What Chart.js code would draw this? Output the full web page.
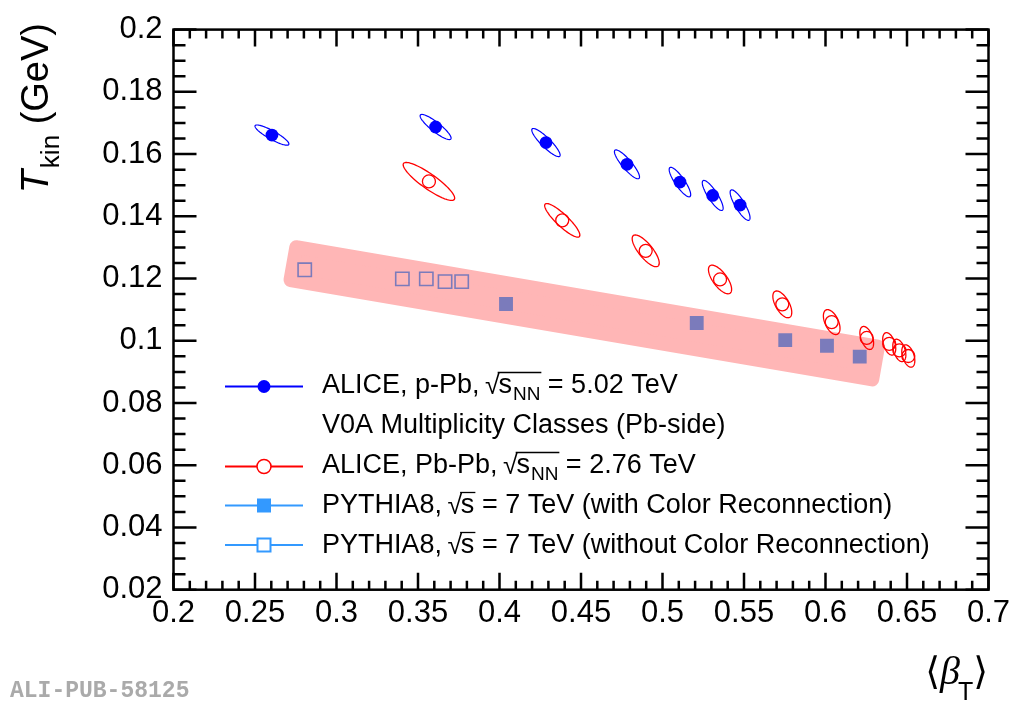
<!DOCTYPE html>
<html><head><meta charset="utf-8">
<script src="https://cdn.jsdelivr.net/npm/chart.js@4/dist/chart.umd.min.js"></script>
<style>html,body{margin:0;padding:0;background:#fff;}canvas{display:block}</style>
</head><body>
<canvas id="c" width="1024" height="701"></canvas>
<script>
// ---------------- data ----------------
const xMin = 0.2, xMax = 0.7, xStep = 0.05, xMinorStep = 0.01;
const yMin = 0.02, yMax = 0.2, yStep = 0.02, yMinorStep = 0.005;

// ALICE p-Pb 5.02 TeV (V0A multiplicity classes)
const pPbBeta   = [0.2604, 0.3608, 0.4285, 0.4782, 0.5107, 0.5308, 0.5476];
const pPbTkin   = [0.1661, 0.1687, 0.1637, 0.1567, 0.1510, 0.1467, 0.1436];
const pPbSigB   = [0.0104, 0.0095, 0.0087, 0.0077, 0.0066, 0.0064, 0.0061];
const pPbSigT   = [0.00325, 0.00404, 0.00452, 0.00464, 0.00474, 0.00483, 0.0049];
const pPbRho    = [-0.88, -0.885, -0.89, -0.875, -0.85, -0.845, -0.835];

// ALICE Pb-Pb 2.76 TeV
const PbPbBeta  = [0.3567, 0.4385, 0.4897, 0.5353, 0.5735, 0.6038, 0.6253, 0.6391, 0.6453, 0.6508];
const PbPbTkin  = [0.1512, 0.1387, 0.1289, 0.1197, 0.1117, 0.1060, 0.1009, 0.0990, 0.0969, 0.0951];
const PbPbSigB  = [0.0158, 0.0108, 0.0083, 0.0071, 0.0058, 0.0051, 0.0042, 0.0040, 0.0040, 0.0040];
const PbPbSigT  = [0.0061, 0.0054, 0.0051, 0.0046, 0.0043, 0.0040, 0.0037, 0.0036, 0.0036, 0.0036];
const PbPbRho   = [-0.88, -0.88, -0.77, -0.69, -0.6, -0.5, -0.45, -0.42, -0.42, -0.42];

// PYTHIA8 7 TeV with colour reconnection
const pyCRBeta  = [0.404, 0.521, 0.5753, 0.6009, 0.621];
const pyCRTkin  = [0.1118, 0.1057, 0.1002, 0.0984, 0.0949];
// PYTHIA8 7 TeV without colour reconnection
const pyNoBeta  = [0.2805, 0.3404, 0.3551, 0.3666, 0.3768];
const pyNoTkin  = [0.1228, 0.1199, 0.1199, 0.1190, 0.1190];

// shaded band (corner points of the band, closed)
const bandBeta  = [0.27534, 0.63221, 0.62865, 0.27178, 0.27534];
const bandTkin  = [0.13008, 0.09814, 0.08758, 0.11953, 0.13008];

const legendLines = [
  ['ALICE, p-Pb, ', 's', 'NN', ' = 5.02 TeV'],
  ['V0A Multiplicity Classes (Pb-side)'],
  ['ALICE, Pb-Pb, ', 's', 'NN', ' = 2.76 TeV'],
  ['PYTHIA8, ', 's', '', ' = 7 TeV (with Color Reconnection)'],
  ['PYTHIA8, ', 's', '', ' = 7 TeV (without Color Reconnection)']
];
const watermark = 'ALI-PUB-58125';

// ---------------- helpers ----------------
const pts = (xs, ys) => xs.map((v, i) => ({x: v, y: ys[i]}));
const SANS = "'Liberation Sans', Arial, sans-serif";
const BLUE = '#0000ff', RED = '#ff0000', SLATE = '#7b7bbb', LBLUE = '#3399ff', PINK = '#ffb6b6';

const ellipseSets = [
  {xs: pPbBeta, ys: pPbTkin, sx: pPbSigB, sy: pPbSigT, rho: pPbRho, color: BLUE, lw: 1.2},
  {xs: PbPbBeta, ys: PbPbTkin, sx: PbPbSigB, sy: PbPbSigT, rho: PbPbRho, color: RED, lw: 1.3}
];

const ellipsePlugin = {
  id: 'ellipses',
  afterDatasetDraw(chart, args) {
    if (args.index !== 0) return; // right after the band
    const {ctx, chartArea: a, scales: {x, y}} = chart;
    ctx.save();
    ctx.beginPath(); ctx.rect(a.left, a.top, a.right - a.left, a.bottom - a.top); ctx.clip();
    ellipseSets.forEach(s => {
      ctx.strokeStyle = s.color; ctx.lineWidth = s.lw;
      s.xs.forEach((cx, i) => {
        const r = s.rho[i], q = Math.sqrt(1 - r * r);
        ctx.beginPath();
        for (let k = 0; k <= 96; k++) {
          const t = k / 96 * 2 * Math.PI;
          const dx = s.sx[i] * Math.cos(t);
          const dy = s.sy[i] * (r * Math.cos(t) + q * Math.sin(t));
          const px = x.getPixelForValue(cx + dx), py = y.getPixelForValue(s.ys[i] + dy);
          k ? ctx.lineTo(px, py) : ctx.moveTo(px, py);
        }
        ctx.closePath(); ctx.stroke();
      });
    });
    ctx.restore();
  }
};

const framePlugin = {
  id: 'frame',
  afterDraw(chart) {
    const {ctx, chartArea: a, scales: {x, y}} = chart;
    ctx.save();
    ctx.strokeStyle = '#000'; ctx.lineWidth = 2.5;
    ctx.beginPath();
    const nx = Math.round((xMax - xMin) / xMinorStep), per = Math.round(xStep / xMinorStep);
    for (let i = 0; i <= nx; i++) {
      const px = x.getPixelForValue(xMin + i * xMinorStep);
      const L = i % per === 0 ? 17 : 9;
      ctx.moveTo(px, a.bottom); ctx.lineTo(px, a.bottom - L);
      ctx.moveTo(px, a.top); ctx.lineTo(px, a.top + L);
    }
    const ny = Math.round((yMax - yMin) / yMinorStep), pery = Math.round(yStep / yMinorStep);
    for (let i = 0; i <= ny; i++) {
      const py = y.getPixelForValue(yMin + i * yMinorStep);
      const L = i % pery === 0 ? 23 : 12;
      ctx.moveTo(a.left, py); ctx.lineTo(a.left + L, py);
      ctx.moveTo(a.right, py); ctx.lineTo(a.right - L, py);
    }
    ctx.stroke();
    ctx.strokeRect(a.left, a.top, a.right - a.left, a.bottom - a.top);
    ctx.restore();
  }
};

function seg(ctx, x, y, text, font) {
  ctx.font = font; ctx.fillText(text, x, y);
  return x + ctx.measureText(text).width;
}

const textPlugin = {
  id: 'texts',
  afterDraw(chart) {
    const ctx = chart.ctx;
    ctx.save();
    ctx.fillStyle = '#000'; ctx.textAlign = 'left'; ctx.textBaseline = 'alphabetic';
    // ---- legend ----
    const fs = 27, F = fs + 'px ' + SANS, FS = '19px ' + SANS;
    const lx0 = 225, lx1 = 303, mx = 264, tx = 322;
    const baselines = [393, 433, 473, 513, 553];
    const markerY = [386.5, null, 466.5, 505.5, 545];
    const styles = [
      {line: BLUE, kind: 'fcircle', col: BLUE},
      null,
      {line: RED, kind: 'ocircle', col: RED},
      {line: LBLUE, kind: 'fsquare', col: LBLUE},
      {line: LBLUE, kind: 'osquare', col: LBLUE}
    ];
    styles.forEach((s, i) => {
      if (!s) return;
      const yy = markerY[i];
      ctx.strokeStyle = s.line; ctx.lineWidth = 2;
      ctx.beginPath(); ctx.moveTo(lx0, yy); ctx.lineTo(lx1, yy); ctx.stroke();
      ctx.fillStyle = s.col; ctx.strokeStyle = s.col;
      if (s.kind === 'fcircle') { ctx.beginPath(); ctx.arc(mx, yy, 6.5, 0, 2 * Math.PI); ctx.fill(); }
      if (s.kind === 'ocircle') { ctx.fillStyle = '#fff'; ctx.lineWidth = 1.5; ctx.beginPath(); ctx.arc(mx, yy, 7, 0, 2 * Math.PI); ctx.fill(); ctx.stroke(); }
      if (s.kind === 'fsquare') { ctx.fillRect(mx - 7, yy - 7, 14, 14); }
      if (s.kind === 'osquare') { ctx.fillStyle = '#fff'; ctx.lineWidth = 2; ctx.fillRect(mx - 6.5, yy - 6.5, 13, 13); ctx.strokeRect(mx - 6.5, yy - 6.5, 13, 13); }
    });
    ctx.fillStyle = '#000';
    legendLines.forEach((p, i) => {
      const b = baselines[i];
      let x = seg(ctx, tx, b, p[0], F);
      if (p.length > 1) {
        ctx.font = F;
        const rw = ctx.measureText('\u221A').width;
        ctx.fillText('\u221A', x - 2, b + 1);
        const x0 = x - 2 + rw * 0.85;
        x = x - 2 + rw * 0.9;
        x = seg(ctx, x, b, p[1], F);
        if (p[2]) x = seg(ctx, x + 1, b + 7, p[2], FS);
        ctx.strokeStyle = '#000'; ctx.lineWidth = 1.3;
        ctx.beginPath(); ctx.moveTo(x0, b - 20.5); ctx.lineTo(x + 1, b - 20.5); ctx.stroke();
        x = seg(ctx, x, b, p[3], F);
      }
    });
    // ---- y title ----
    ctx.save();
    ctx.translate(48, 23);
    ctx.rotate(-Math.PI / 2);
    const FT = 'italic 38px ' + SANS, FN = '38px ' + SANS, FK = '26px ' + SANS;
    ctx.font = FT; const w1 = ctx.measureText('T').width;
    ctx.font = FK; const w2 = ctx.measureText('kin').width;
    ctx.font = FN; const w3 = ctx.measureText(' (GeV)').width;
    let ux = -(w1 + w2 + w3 + 2);
    ux = seg(ctx, ux, 0, 'T', FT);
    ux = seg(ctx, ux + 2, 11, 'kin', FK);
    seg(ctx, ux, 0, ' (GeV)', FN);
    ctx.restore();
    // ---- x title ----
    const FB = "38px 'DejaVu Sans', " + SANS, FBe = "italic 40px 'Liberation Serif', serif", FT2 = '25px ' + SANS;
    ctx.font = FB; const a1 = ctx.measureText('\u27E8').width;
    ctx.font = FBe; const a2 = ctx.measureText('\u03B2').width;
    ctx.font = FT2; const a3 = ctx.measureText('T').width;
    ctx.font = FB; const a4 = ctx.measureText('\u27E9').width;
    let bx = 988 - (a1 + a2 + a3 + a4 - 2);
    bx = seg(ctx, bx, 684, '\u27E8', FB);
    bx = seg(ctx, bx, 684, '\u03B2', FBe);
    bx = seg(ctx, bx - 2, 700, 'T', FT2);
    seg(ctx, bx, 684, '\u27E9', FB);
    // ---- watermark ----
    ctx.fillStyle = '#aaaaaa';
    seg(ctx, 10, 697, watermark, "bold 23px 'Liberation Mono', monospace");
    ctx.restore();
  }
};

const fmt = v => String(+(+v).toFixed(3));

new Chart(document.getElementById('c'), {
  type: 'scatter',
  data: {
    datasets: [
      { label: 'band', data: pts(bandBeta, bandTkin), showLine: true, fill: 'shape',
        backgroundColor: PINK, borderColor: PINK, borderWidth: 14,
        borderJoinStyle: 'round', borderCapStyle: 'round', pointRadius: 0, order: 10 },
      { label: 'PYTHIA8 with CR', data: pts(pyCRBeta, pyCRTkin), pointStyle: 'rect',
        pointRadius: 9.8, backgroundColor: SLATE, borderColor: SLATE, borderWidth: 0, order: 1 },
      { label: 'PYTHIA8 without CR', data: pts(pyNoBeta, pyNoTkin), pointStyle: 'rect',
        pointRadius: 9.4, backgroundColor: 'rgba(0,0,0,0)', borderColor: SLATE, borderWidth: 1.6, order: 1 },
      { label: 'ALICE Pb-Pb', data: pts(PbPbBeta, PbPbTkin), pointStyle: 'circle',
        pointRadius: 6.5, backgroundColor: 'rgba(0,0,0,0)', borderColor: RED, borderWidth: 1.3, order: 1 },
      { label: 'ALICE p-Pb', data: pts(pPbBeta, pPbTkin), pointStyle: 'circle',
        pointRadius: 6.4, backgroundColor: BLUE, borderColor: BLUE, borderWidth: 0, order: 1 }
    ]
  },
  options: {
    responsive: false, animation: false,
    layout: { padding: { left: 0, right: 35.5, top: 19.7, bottom: 0 } },
    plugins: { legend: { display: false }, tooltip: { enabled: false } },
    scales: {
      x: { type: 'linear', min: xMin, max: xMax,
        grid: { display: false, drawTicks: false }, border: { display: false },
        ticks: { stepSize: xStep, padding: 5, color: '#000', font: { family: SANS, size: 31 }, callback: fmt, maxRotation: 0, autoSkip: false },
        afterFit: s => { s.height = 111.3; } },
      y: { type: 'linear', min: yMin, max: yMax,
        grid: { display: false, drawTicks: false }, border: { display: false },
        ticks: { stepSize: yStep, padding: 11, color: '#000', font: { family: SANS, size: 31 }, callback: fmt, autoSkip: false },
        afterFit: s => { s.width = 173.5; } }
    }
  },
  plugins: [ellipsePlugin, framePlugin, textPlugin]
});
</script>
</body></html>
